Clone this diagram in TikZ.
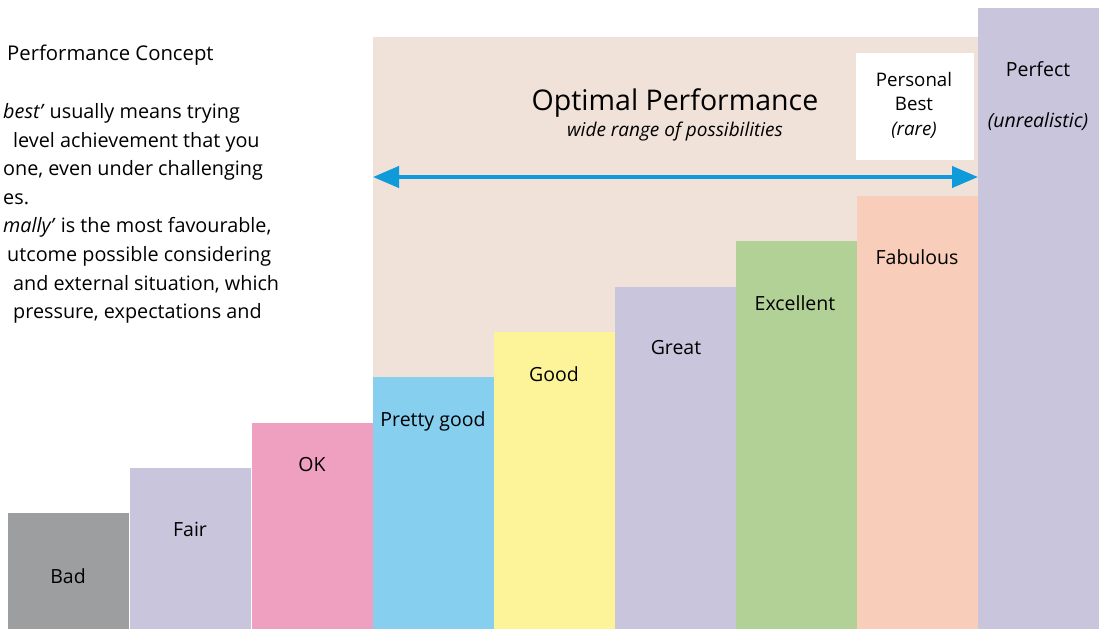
\documentclass[tikz,border=0pt]{standalone}
\usepackage{fontspec}
\setmainfont{Open Sans}
\usetikzlibrary{arrows.meta}
\definecolor{cbad}{RGB}{157,158,160}
\definecolor{clav}{RGB}{201,197,221}
\definecolor{cpink}{RGB}{239,159,192}
\definecolor{cblue}{RGB}{134,207,239}
\definecolor{cyellow}{RGB}{253,244,154}
\definecolor{cgreen}{RGB}{177,209,150}
\definecolor{cpeach}{RGB}{248,205,185}
\definecolor{cbeige}{RGB}{240,225,217}
\definecolor{carrow}{RGB}{15,154,217}
\begin{document}
\begin{tikzpicture}[x=1pt,y=-1pt,
  bar/.style={draw=none,inner sep=0,anchor=north west},
  lbl/.style={inner sep=0,font=\fontsize{19.5}{22}\selectfont},
  txt/.style={inner sep=0,anchor=base west,font=\fontsize{19.8}{22}\selectfont}]
\useasboundingbox (0,0) rectangle (1099,629);
% background area
\node[bar,fill=cbeige,minimum width=605pt,minimum height=592pt] (bg) at (373,37) {};
% bars
\node[bar,fill=cbad,minimum width=121pt,minimum height=116pt] (b1) at (8,513) {};
\node[bar,fill=clav,minimum width=121pt,minimum height=161pt] (b2) at (130,468) {};
\node[bar,fill=cpink,minimum width=121pt,minimum height=206pt] (b3) at (252,423) {};
\node[bar,fill=cblue,minimum width=121pt,minimum height=252pt] (b4) at (373,377) {};
\node[bar,fill=cyellow,minimum width=121pt,minimum height=297pt] (b5) at (494,332) {};
\node[bar,fill=clav,minimum width=121pt,minimum height=342pt] (b6) at (615,287) {};
\node[bar,fill=cgreen,minimum width=121pt,minimum height=388pt] (b7) at (736,241) {};
\node[bar,fill=cpeach,minimum width=121pt,minimum height=433pt] (b8) at (857,196) {};
\node[bar,fill=clav,minimum width=121pt,minimum height=621pt] (b9) at (978,8) {};
% personal best box
\node[bar,fill=white,minimum width=118pt,minimum height=107pt] (pb) at (856,53) {};
% arrow
\coordinate (al) at (373,177);
\coordinate (ar) at (978,177);
\draw[carrow,line width=4pt,{Triangle[length=26pt,width=21pt]}-{Triangle[length=26pt,width=21pt]}] (al) -- (ar);
% labels
\node[lbl] (l1) at (68,576) {Bad};
\node[lbl] (l2) at (190,529) {Fair};
\node[lbl] (l3) at (312,465) {OK};
\node[lbl] (l4) at (433,421) {Pretty good};
\node[lbl] (l5) at (554,374) {Good};
\node[lbl] (l6) at (676,348) {Great};
\node[lbl] (l7) at (795,303) {Excellent};
\node[lbl] (l8) at (917,257) {Fabulous};
\node[lbl] (l9) at (1038,69) {Perfect};
\node[lbl,font=\fontsize{19.5}{22}\selectfont\itshape] (l9b) at (1038,122) {(unrealistic)};
\node[lbl,font=\fontsize{18.7}{22}\selectfont] (pb1) at (914,79) {Personal};
\node[lbl,font=\fontsize{18.7}{22}\selectfont] (pb2) at (914,104) {Best};
\node[lbl,font=\fontsize{18.7}{22}\selectfont\itshape] (pb3) at (914,130) {(rare)};
\node[inner sep=0,font=\fontsize{28.5}{32}\selectfont] (op) at (675,103) {Optimal Performance};
\node[inner sep=0,font=\fontsize{19}{22}\selectfont\itshape] (op2) at (675,132) {wide range of possibilities};
% left text
\node[txt,font=\fontsize{20.3}{22}\selectfont] (t0) at (7,60) {Performance Concept};
\node[txt] (t1) at (3,118) {\textit{best'} usually means trying};
\node[txt] (t2) at (13,147) {level achievement that you};
\node[txt] (t3) at (3,175) {one, even under challenging};
\node[txt] (t4) at (3,204) {es.};
\node[txt] (t5) at (3,232) {\textit{mally'} is the most favourable,};
\node[txt] (t6) at (7,261) {utcome possible considering};
\node[txt] (t7) at (13,290) {and external situation, which};
\node[txt] (t8) at (13,318) {pressure, expectations and};
\end{tikzpicture}
\end{document}
